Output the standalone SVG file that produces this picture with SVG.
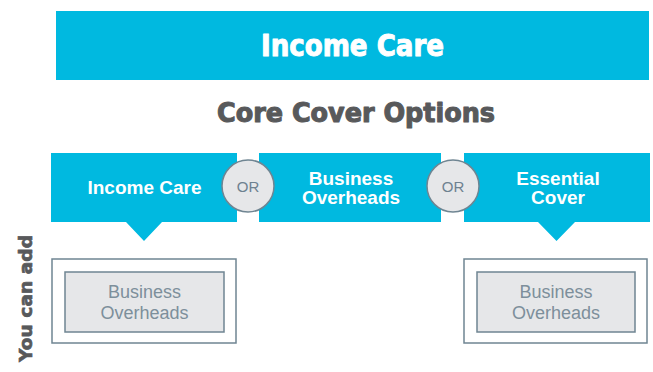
<svg xmlns="http://www.w3.org/2000/svg" width="653" height="372" viewBox="0 0 653 372">
<style>
.cyan{fill:#00b9e0}
.title{font-family:"DejaVu Sans Condensed","DejaVu Sans",sans-serif;font-weight:bold;text-anchor:middle;stroke-width:1;stroke-linejoin:round}
.opt{font-family:"Liberation Sans",Arial,sans-serif;font-weight:bold;font-size:19px;fill:#ffffff;text-anchor:middle}
.or{fill:#e6e7e9;stroke:#6f8592;stroke-width:1.5}
.ortxt{font-family:"Liberation Sans",Arial,sans-serif;font-size:15px;fill:#6e8190;text-anchor:middle}
.outer{fill:#ffffff;stroke:#6f8592;stroke-width:1.5}
.inner{fill:#e6e7e9;stroke:#6f8592;stroke-width:1.5}
.addtxt{font-family:"Liberation Sans",Arial,sans-serif;font-size:18px;fill:#7d8f9b;text-anchor:middle}
</style>
<rect width="653" height="372" fill="#ffffff"/>
<g id="banner">
<rect class="cyan" x="56" y="11" width="593" height="69"/>
<text class="title" x="352.5" y="56" font-size="31" fill="#ffffff" stroke="#ffffff" textLength="183" lengthAdjust="spacingAndGlyphs">Income Care</text>
</g>
<g id="heading">
<text class="title" x="356" y="122" font-size="26" fill="#58595b" stroke="#58595b" textLength="278" lengthAdjust="spacingAndGlyphs">Core Cover Options</text>
</g>
<g id="side-label">
<text transform="translate(32 298.5) rotate(-90)" x="0" y="0" font-family="DejaVu Sans, sans-serif" font-weight="bold" font-size="18.5" fill="#58595b" stroke="#58595b" stroke-width="0.7" stroke-linejoin="round" text-anchor="middle" textLength="127" lengthAdjust="spacingAndGlyphs">You can add</text>
</g>
<g id="option-income-care">
<path class="cyan" d="M51 153 H237 V222 H162 L144 241 L126 222 H51 Z"/>
<text class="opt" x="144.5" y="194">Income Care</text>
</g>
<g id="option-business-overheads">
<rect class="cyan" x="259" y="153" width="182" height="69"/>
<text class="opt" x="351" y="185">Business</text>
<text class="opt" x="351" y="204">Overheads</text>
</g>
<g id="option-essential-cover">
<path class="cyan" d="M464 153 H650 V222 H575 L556.5 241 L538 222 H464 Z"/>
<text class="opt" x="558" y="185">Essential</text>
<text class="opt" x="558" y="204">Cover</text>
</g>
<g id="or-1">
<circle class="or" cx="248" cy="186" r="26"/>
<text class="ortxt" x="248" y="191.5">OR</text>
</g>
<g id="or-2">
<circle class="or" cx="453" cy="186" r="26"/>
<text class="ortxt" x="453" y="191.5">OR</text>
</g>
<g id="addon-left">
<rect class="outer" x="52" y="259" width="184" height="84"/>
<rect class="inner" x="65" y="272" width="159" height="60"/>
<text class="addtxt" x="144.5" y="298">Business</text>
<text class="addtxt" x="144.5" y="318.5">Overheads</text>
</g>
<g id="addon-right">
<rect class="outer" x="464" y="259" width="183" height="84"/>
<rect class="inner" x="477" y="272" width="158" height="60"/>
<text class="addtxt" x="556" y="298">Business</text>
<text class="addtxt" x="556" y="318.5">Overheads</text>
</g>
<g id="connectors"></g>
</svg>
